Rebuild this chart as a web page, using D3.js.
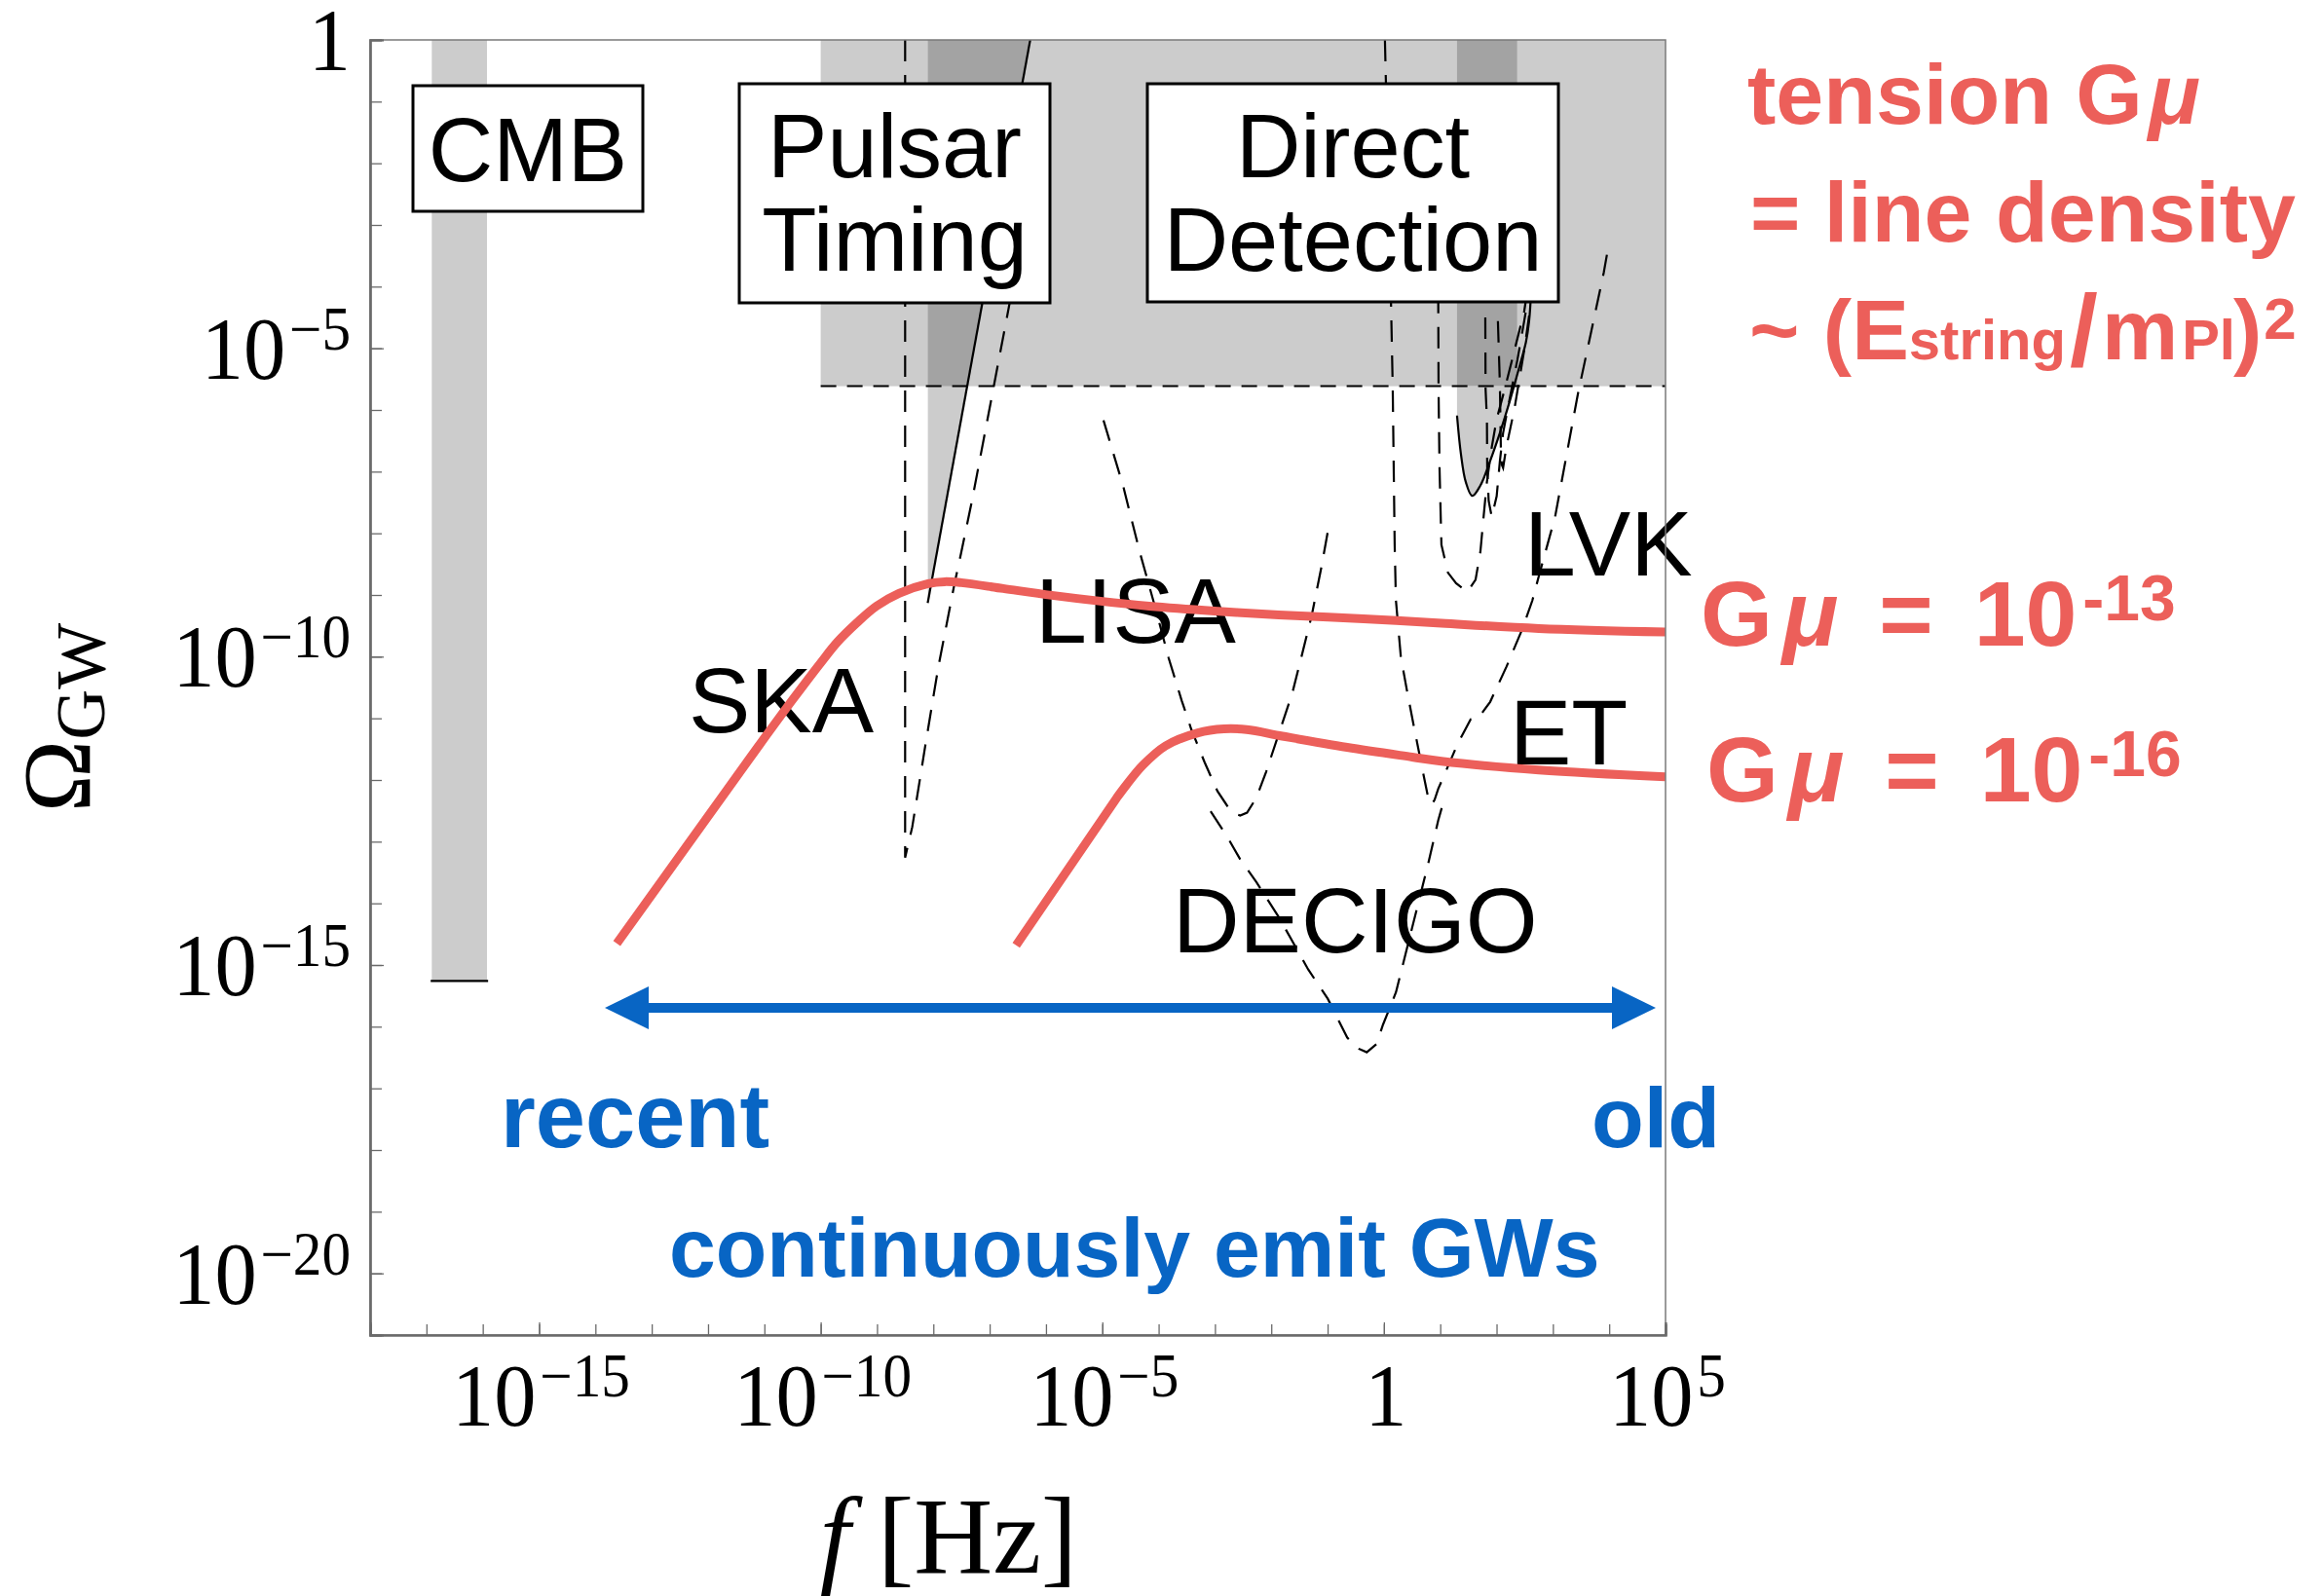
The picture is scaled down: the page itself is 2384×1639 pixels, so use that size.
<!DOCTYPE html>
<html><head><meta charset="utf-8">
<script src="https://cdn.jsdelivr.net/npm/d3@7"></script>
<style>body{margin:0;background:#fff}</style>
</head><body>
<svg id="c" width="2384" height="1639" xmlns="http://www.w3.org/2000/svg"></svg>
<script>
// ---------- DATA (log10 f [Hz], log10 Omega_GW) ----------
const xTickExps = [-15, -10, -5, 0, 5];
const yTickExps = [0, -5, -10, -15, -20];
const xMinorExps = d3.range(-18, 6);
const yMinorExps = d3.range(-21, 1);

const cmbBandF = [-16.905, -15.925];
const cmbBandOmegaMin = -15.26;
const upperGreyF = [-10, 5];
const upperGreyOmegaMin = -5.615;
const ptaBandFMin = -8.097;
const ptaBound = [[-6.28, 0], [-8.10, -9.13]];
const lvkBandF = [1.298, 2.365];
const lvkBound = [[1.298,-6.091],[1.367,-6.713],[1.453,-7.167],[1.569,-7.393],[1.713,-7.224],[1.886,-6.826],[2.059,-6.372],[2.232,-5.864],[2.405,-5.300],[2.521,-4.902],[2.578,-4.558],[2.613,-4.085]];

const skaCurve = [[-8.501,0],[-8.501,-13.26],[-8.374,-12.76],[-8.144,-11.45],[-7.914,-10.18],[-7.625,-8.82],[-7.509,-8.33],[-7.308,-7.445],[-6.644,-4.26],[-6.16,-2.0]];
const lisaCurve = [[-4.979,-6.167],[-4.628,-7.240],[-4.339,-8.292],[-4.050,-9.238],[-3.821,-10.027],[-3.591,-10.710],[-3.418,-11.183],[-3.186,-11.708],[-2.956,-12.181],[-2.783,-12.418],[-2.66,-12.54],[-2.553,-12.576],[-2.43,-12.53],[-2.264,-12.287],[-2.091,-11.866],[-1.861,-11.235],[-1.630,-10.604],[-1.456,-9.973],[-1.284,-9.342],[-1.111,-8.553],[-0.997,-7.976]];
const decigoCurve = [[-3.077,-12.508],[-2.783,-12.918],[-2.553,-13.285],[-2.264,-13.655],[-1.861,-14.232],[-1.343,-15.074],[-0.997,-15.547],[-0.651,-16.178],[-0.449,-16.356],[-0.305,-16.415],[-0.132,-16.282],[-0.016,-15.967],[0.214,-15.442],[0.387,-14.811],[0.618,-13.970],[0.791,-13.339],[0.964,-12.655],[1.039,-12.413]];
const etCurve = [[0.018,0],[0.122,-4.085],[0.156,-5.615],[0.191,-8.186],[0.213,-9.085],[0.300,-10.000],[0.416,-10.584],[0.532,-11.131],[0.705,-11.924],[0.779,-12.256],[0.849,-12.397],[0.90,-12.32],[0.964,-12.145],[1.310,-11.413],[1.540,-11.017],[1.683,-10.989],[1.886,-10.734],[2.174,-10.167],[2.462,-9.543],[2.635,-9.091],[2.750,-8.696],[3.039,-7.733],[3.442,-5.751],[3.904,-3.770],[3.990,-3.325]];
const lvkCurveA = [[0.964,-4.085],[0.970,-5.662],[0.987,-6.924],[1.021,-8.186],[1.137,-8.639],[1.281,-8.809],[1.483,-8.950],[1.627,-8.754],[1.713,-8.297],[1.770,-7.729],[1.829,-7.161],[1.915,-6.601],[2.002,-6.148],[2.145,-5.662],[2.318,-5.032],[2.491,-4.401],[2.543,-4.085]];
const lvkCurveB = [[1.800,-4.5],[1.805,-5.662],[1.829,-6.151],[1.834,-6.924],[1.86,-7.476],[1.915,-7.733],[2.002,-7.397],[2.059,-6.830],[2.116,-6.372],[2.232,-5.820],[2.37,-5.19],[2.491,-4.558],[2.578,-4.085]];
const lvkCurveC = [[2.024,-4.558],[2.059,-5.584],[2.076,-6.609],[2.093,-6.89],[2.116,-6.94],[2.174,-6.601],[2.318,-5.978],[2.491,-5.032],[2.613,-4.243]];
// cosmic-string spectra: [rising power-law part], [smooth part after the knee]
const gmu13Rise = [[-13.62,-14.65],[-11.08,-11.42]];
const gmu13Curve = [[-11.08,-11.42],[-10.5,-10.70],[-10.0,-10.10],[-9.7,-9.76],[-9.354,-9.448],[-9.008,-9.18],[-8.61,-8.975],[-8.092,-8.817],[-7.798,-8.785],[-7.504,-8.801],[-6.76,-8.896],[-5.896,-9.006],[-5.031,-9.101],[-4.166,-9.18],[-3.008,-9.259],[-1.867,-9.322],[-0.362,-9.385],[1.021,-9.459],[2.751,-9.543],[5.0,-9.60]];
const gmu16Rise = [[-6.53,-14.68],[-4.742,-12.287]];
const gmu16Curve = [[-4.742,-12.287],[-4.569,-12.077],[-4.282,-11.762],[-3.878,-11.447],[-3.302,-11.235],[-2.840,-11.172],[-2.437,-11.183],[-1.803,-11.289],[-0.651,-11.472],[0.502,-11.629],[1.021,-11.697],[2.751,-11.838],[5.0,-11.95]];

const detectorLabels = ["SKA", "LISA", "DECIGO", "LVK", "ET"];
const boxLabels = [["CMB"], ["Pulsar", "Timing"], ["Direct", "Detection"]];

// ---------- SETUP ----------
const LIGHT = "#cccccc", DARK = "#a3a3a3", RED = "#ec5f5a", BLUE = "#0865c4";
const SANS = "'Liberation Sans', Arial, sans-serif";
const SERIF = "'Liberation Serif', 'Times New Roman', serif";
const svg = d3.select("#c");
const x = d3.scaleLog().domain([1e-18, 1e5]).range([380, 1710]);
const y = d3.scaleLog().domain([1e-21, 1]).range([1371, 41]);
const px = d => x(Math.pow(10, d[0]));
const py = d => y(Math.pow(10, d[1]));
const lin = d3.line().x(px).y(py);
const smooth = d3.line().x(px).y(py).curve(d3.curveCatmullRom.alpha(0.5));

svg.append("rect").attr("width", 2384).attr("height", 1639).attr("fill", "#fff");
svg.append("defs").append("clipPath").attr("id", "clip").append("rect")
  .attr("x", 380).attr("y", 41).attr("width", 1330).attr("height", 1330);
const plot = svg.append("g").attr("clip-path", "url(#clip)");

function rectLog(f0, f1, o0, o1, fill) {
  plot.append("rect")
    .attr("x", px([f0, 0])).attr("width", px([f1, 0]) - px([f0, 0]))
    .attr("y", py([0, o1])).attr("height", py([0, o0]) - py([0, o1]))
    .attr("fill", fill);
}
function poly(pts, fill) {
  plot.append("path").attr("d", lin(pts) + "Z").attr("fill", fill);
}
function interpF(curve, omega) {
  for (let i = 0; i < curve.length - 1; i++) {
    const a = curve[i], b = curve[i + 1];
    if ((a[1] - omega) * (b[1] - omega) <= 0) {
      const t = (omega - a[1]) / (b[1] - a[1]);
      return a[0] + t * (b[0] - a[0]);
    }
  }
  return curve[curve.length - 1][0];
}

// ---------- SHADED REGIONS ----------
rectLog(cmbBandF[0], cmbBandF[1], cmbBandOmegaMin, 0, LIGHT);
rectLog(upperGreyF[0], upperGreyF[1], upperGreyOmegaMin, 0, LIGHT);
poly([[ptaBandFMin, 0], ptaBound[0], [ptaBandFMin, ptaBound[1][1]]], LIGHT);
const ptaCross = interpF(ptaBound, upperGreyOmegaMin);
poly([[ptaBandFMin, 0], ptaBound[0], [ptaCross, upperGreyOmegaMin], [ptaBandFMin, upperGreyOmegaMin]], DARK);
rectLog(lvkBandF[0], lvkBandF[1], upperGreyOmegaMin, 0, DARK);
const lvkCross = interpF(lvkBound, upperGreyOmegaMin);
const lvkLower = lvkBound.filter(d => d[1] < upperGreyOmegaMin);
poly([[lvkBandF[0], upperGreyOmegaMin], ...lvkLower, [lvkCross, upperGreyOmegaMin]], LIGHT);

// ---------- DETECTOR LABELS ----------
const labelPos = [[707, 752], [1063, 660], [1204, 978], [1565, 591], [1550, 785]];
detectorLabels.forEach((t, i) => {
  svg.append("text").attr("x", labelPos[i][0]).attr("y", labelPos[i][1])
    .attr("font-family", SANS).attr("font-size", 95).attr("fill", "#000").text(t);
});

// ---------- CURVES ----------
const lines = svg.append("g").attr("clip-path", "url(#clip)");
lines.append("path").attr("d", lin([[cmbBandF[0] - 0.02, cmbBandOmegaMin], [cmbBandF[1] + 0.02, cmbBandOmegaMin]]))
  .attr("stroke", "#000").attr("stroke-width", 2.2).attr("fill", "none");
lines.append("path").attr("d", lin([[upperGreyF[0], upperGreyOmegaMin], [upperGreyF[1], upperGreyOmegaMin]]))
  .attr("stroke", "#000").attr("stroke-width", 2).attr("stroke-dasharray", "16,11").attr("fill", "none");
[skaCurve, lisaCurve, decigoCurve, etCurve, lvkCurveA, lvkCurveB, lvkCurveC].forEach(c => {
  lines.append("path").attr("d", lin(c)).attr("fill", "none")
    .attr("stroke", "#000").attr("stroke-width", 2.2).attr("stroke-dasharray", "22,14");
});
lines.append("path").attr("d", lin(ptaBound)).attr("fill", "none").attr("stroke", "#000").attr("stroke-width", 2.2);
lines.append("path").attr("d", smooth(lvkBound)).attr("fill", "none").attr("stroke", "#000").attr("stroke-width", 2.2);

// ---------- BOXES ----------
const boxRects = [[424, 88, 236, 129], [759, 86, 319, 225], [1178, 86, 422, 224]];
const boxBase = [[186], [182, 278], [182, 278]];
boxLabels.forEach((lbls, i) => {
  const r = boxRects[i];
  svg.append("rect").attr("x", r[0]).attr("y", r[1]).attr("width", r[2]).attr("height", r[3])
    .attr("fill", "#fff").attr("stroke", "#000").attr("stroke-width", 3);
  lbls.forEach((t, j) => {
    svg.append("text").attr("x", r[0] + r[2] / 2).attr("y", boxBase[i][j])
      .attr("text-anchor", "middle").attr("font-family", SANS).attr("font-size", 92).text(t);
  });
});

// ---------- STRING SPECTRA ----------
[[gmu13Rise, gmu13Curve], [gmu16Rise, gmu16Curve]].forEach(([r, c]) => {
  const d = lin(r) + "L" + smooth(c).slice(1);
  lines.append("path").attr("d", d).attr("fill", "none")
    .attr("stroke", RED).attr("stroke-width", 9).attr("stroke-linecap", "butt").attr("stroke-linejoin", "round");
});

// ---------- AXES / FRAME ----------
svg.append("rect").attr("x", 380).attr("y", 41).attr("width", 1330).attr("height", 1330)
  .attr("fill", "none").attr("stroke", "#7a7a7a").attr("stroke-width", 1.5);
const xAxisMinor = d3.axisBottom(x).tickValues(xMinorExps.map(e => Math.pow(10, e))).tickSize(-11).tickFormat("");
const xAxisMajor = d3.axisBottom(x).tickValues(xTickExps.map(e => Math.pow(10, e))).tickSize(-13).tickFormat("");
const yAxisMinor = d3.axisLeft(y).tickValues(yMinorExps.map(e => Math.pow(10, e))).tickSize(-12).tickFormat("");
const yAxisMajor = d3.axisLeft(y).tickValues(yTickExps.map(e => Math.pow(10, e))).tickSize(-14).tickFormat("");
[xAxisMinor, xAxisMajor].forEach(a => {
  const g = svg.append("g").attr("transform", "translate(0,1371)").call(a);
  g.select(".domain").attr("stroke", "#6a6a6a").attr("stroke-width", 2.2);
  g.selectAll(".tick line").attr("stroke", "#6a6a6a").attr("stroke-width", 1.3);
});
[yAxisMinor, yAxisMajor].forEach(a => {
  const g = svg.append("g").attr("transform", "translate(380,0)").call(a);
  g.select(".domain").attr("stroke", "#6a6a6a").attr("stroke-width", 2.2);
  g.selectAll(".tick line").attr("stroke", "#6a6a6a").attr("stroke-width", 1.3);
});

function powLabel(g, e, anchor) {
  const t = g.append("text").attr("font-family", SERIF).attr("text-anchor", anchor).attr("fill", "#000");
  if (e === 0) { t.append("tspan").attr("font-size", 92).text("1"); return; }
  t.append("tspan").attr("font-size", 92).text("10");
  t.append("tspan").attr("font-size", 63).attr("dy", -30).attr("dx", 4).text((e < 0 ? "\u2212" : "") + Math.abs(e));
}
xTickExps.forEach(e => {
  const g = svg.append("g").attr("transform", `translate(${x(Math.pow(10, e)) + 2},1464) scale(0.94,1)`);
  powLabel(g, e, "middle");
});
yTickExps.forEach(e => {
  const g = svg.append("g").attr("transform", `translate(360,${y(Math.pow(10, e)) + 31}) scale(0.94,1)`);
  powLabel(g, e, "end");
});

// axis titles
const xt = svg.append("text").attr("x", 974).attr("y", 1615).attr("text-anchor", "middle")
  .attr("font-family", SERIF).attr("font-size", 112);
xt.append("tspan").attr("font-style", "italic").text("f");
xt.append("tspan").text(" [Hz]");
const yt = svg.append("text").attr("transform", "translate(92,737) rotate(-90)").attr("text-anchor", "middle")
  .attr("font-family", SERIF);
yt.append("tspan").attr("font-size", 100).text("\u03A9");
yt.append("tspan").attr("font-size", 72).attr("dy", 15).text("GW");

// ---------- BLUE ARROW & TEXT ----------
svg.append("line").attr("x1", 655).attr("x2", 1665).attr("y1", 1035).attr("y2", 1035)
  .attr("stroke", BLUE).attr("stroke-width", 10);
svg.append("path").attr("d", "M621,1035 L666,1013 L666,1057 Z").attr("fill", BLUE);
svg.append("path").attr("d", "M1700,1035 L1655,1013 L1655,1057 Z").attr("fill", BLUE);
const blueTexts = [["recent", 514, 1178, 92], ["old", 1634, 1178, 88], ["continuously emit GWs", 687, 1311, 86]];
blueTexts.forEach(b => svg.append("text").attr("x", b[1]).attr("y", b[2]).attr("font-family", SANS)
  .attr("font-weight", "bold").attr("font-size", b[3]).attr("fill", BLUE).text(b[0]));

// ---------- RED ANNOTATION ----------
function redText(xp, yp, parts) {
  const t = svg.append("text").attr("x", xp).attr("y", yp).attr("font-family", SANS)
    .attr("font-weight", "bold").attr("fill", RED);
  parts.forEach(p => {
    const s = t.append("tspan").attr("font-size", p.s || 88).text(p.t);
    if (p.dy) s.attr("dy", p.dy);
    if (p.dx) s.attr("dx", p.dx);
    if (p.i) s.attr("font-style", "italic");
  });
}
redText(1794, 127, [{t: "tension G"}, {t: "\u03BC", i: 1, dx: 6}]);
redText(1797, 248, [{t: "= line density"}]);
redText(1796, 369, [{t: "~ (E"}, {t: "string", s: 58}, {t: "/", s: 104, dx: 4, dy: 6}, {t: "m", dx: 4, dy: -6}, {t: "Pl", s: 58, dx: 4}, {t: ")", dx: -2}, {t: "2", s: 60, dy: -21, dx: 2}]);
redText(1746, 663, [{t: "G", s: 95}, {t: "\u03BC", s: 95, i: 1, dx: 10}, {t: "=", s: 95, dx: 42}, {t: "10", s: 95, dx: 42}, {t: "-13", s: 66, dy: -26, dx: 6}]);
redText(1752, 823, [{t: "G", s: 95}, {t: "\u03BC", s: 95, i: 1, dx: 10}, {t: "=", s: 95, dx: 42}, {t: "10", s: 95, dx: 42}, {t: "-16", s: 66, dy: -26, dx: 6}]);
</script>
</body></html>
